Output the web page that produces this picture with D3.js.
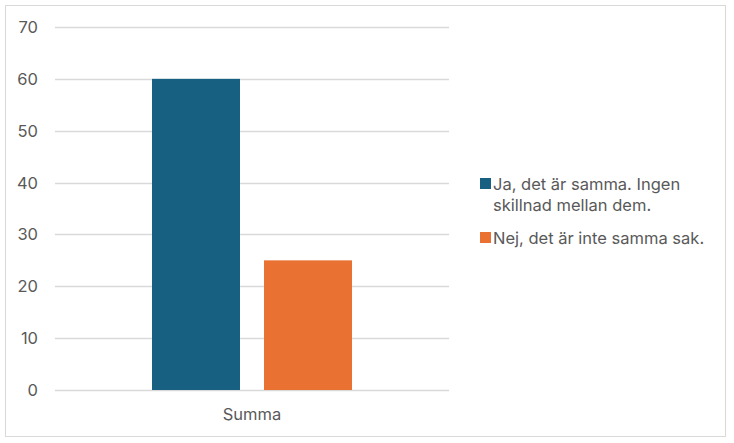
<!DOCTYPE html>
<html><head><meta charset="utf-8">
<script src="https://cdn.jsdelivr.net/npm/d3@7"></script>
<style>body{margin:0;background:#fff}svg{display:block}</style>
</head><body>
<script>
const categories = ["Summa"];
const seriesNames = ["Ja, det är samma. Ingen skillnad mellan dem.", "Nej, det är inte samma sak."];
const seriesValues = [60, 25];
const seriesColors = ["#176082", "#E97132"];
const yTicks = [0, 10, 20, 30, 40, 50, 60, 70];
const legendLines = [["Ja, det är samma. Ingen", "skillnad mellan dem."], ["Nej, det är inte samma sak."]];

const W = 734, H = 443;
const font = "Inter, sans-serif";
const fs = 16.5;
const svg = d3.select("body").append("svg").attr("width", W).attr("height", H);
svg.append("rect").attr("x", 5.5).attr("y", 5.5).attr("width", 720).attr("height", 431)
  .attr("fill", "#fff").attr("stroke", "#d9d9d9").attr("stroke-width", 1);

const x0 = 55, x1 = 449;
const y = d3.scaleLinear().domain([0, 70]).range([390, 27]);
const xc = d3.scaleBand().domain(categories).range([x0, x1]).paddingInner(0).paddingOuter(0);
const xs = d3.scaleBand().domain(d3.range(seriesValues.length)).range([0, xc.bandwidth()]).paddingInner(0.2143).paddingOuter(0.866);

svg.append("g").selectAll("line").data(yTicks).join("line")
  .attr("x1", x0).attr("x2", x1).attr("y1", d => Math.round(y(d)) + 0.5).attr("y2", d => Math.round(y(d)) + 0.5)
  .attr("stroke", "#d9d9d9").attr("stroke-width", 1.3);

svg.append("g").selectAll("text").data(yTicks).join("text")
  .attr("x", 38).attr("y", d => y(d)).attr("dy", "0.36em").attr("text-anchor", "end")
  .attr("font-family", font).attr("font-size", fs).attr("fill", "#595959").text(d => d);

const g = svg.append("g");
categories.forEach(c => {
  g.selectAll("rect.bar").data(seriesValues).join("rect").attr("class", "bar")
    .attr("x", (d, i) => xc(c) + xs(i)).attr("width", xs.bandwidth())
    .attr("y", d => y(d)).attr("height", d => y(0) - y(d))
    .attr("fill", (d, i) => seriesColors[i]);
  svg.append("text").attr("x", xc(c) + xc.bandwidth() / 2).attr("y", 420).attr("text-anchor", "middle")
    .attr("font-family", font).attr("font-size", fs).attr("fill", "#595959").text(c);
});

const legY = [190, 244];
legendLines.forEach((lines, i) => {
  svg.append("rect").attr("x", 480).attr("y", legY[i] - 12).attr("width", 11).attr("height", 11).attr("fill", seriesColors[i]);
  const t = svg.append("text").attr("x", 493).attr("y", legY[i]).attr("font-family", font).attr("font-size", fs).attr("fill", "#595959");
  lines.forEach((l, j) => t.append("tspan").attr("x", 493).attr("dy", j === 0 ? 0 : 21).text(l));
});
</script>
</body></html>
